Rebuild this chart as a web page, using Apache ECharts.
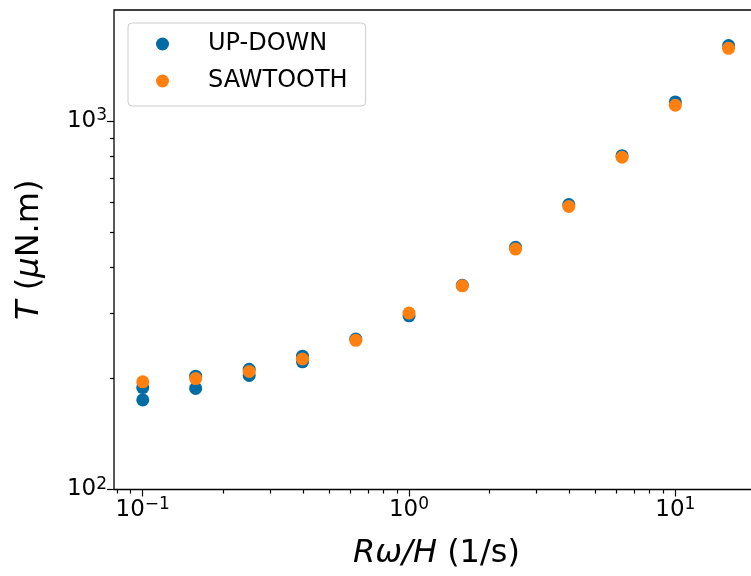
<!DOCTYPE html>
<html><head><meta charset="utf-8">
<script src="https://cdn.jsdelivr.net/npm/echarts@6/dist/echarts.min.js"></script>
<style>html,body{margin:0;padding:0;background:#fff}#c{width:751px;height:576px}</style>
</head><body><div id="c"></div>
<script>
// ---- data ----
const upDownX = [0.1, 0.1, 0.158, 0.158, 0.251, 0.251, 0.398, 0.398, 0.631, 1, 1.585, 2.512, 3.981, 6.31, 10, 15.85];
const upDownY = [189, 175, 203, 188, 212, 204, 230, 222, 256, 296, 358, 454, 593, 805, 1126, 1601];
const sawtoothX = [0.1, 0.158, 0.251, 0.398, 0.631, 1, 1.585, 2.512, 3.981, 6.31, 10, 15.85];
const sawtoothY = [196, 200, 209, 226, 254, 301, 357, 449, 586, 797, 1103, 1574];
const seriesNames = ['UP-DOWN', 'SAWTOOTH'];

const xMajorTicks = [0.1, 1, 10];
const xTickExp = ['\u22121', '0', '1'];
const xMinorTicks = [0.08, 0.09, 0.2, 0.3, 0.4, 0.5, 0.6, 0.7, 0.8, 0.9, 2, 3, 4, 5, 6, 7, 8, 9, 20];
const yMajorTicks = [100, 1000];
const yTickExp = ['2', '3'];
const yMinorTicks = [200, 300, 400, 500, 600, 700, 800, 900];

const xMin = 0.07799, xMax = 20.62;
const yMin = 100, yMax = 2000;

const FONT = 'DejaVu Sans';
const BLUE = '#006BA4', ORANGE = '#FF800E';

function makeFormatter(ticks, exps) {
  return function (v) {
    const i = ticks.findIndex(t => Math.abs(t - v) / t < 1e-6);
    return i < 0 ? '' : '{b|10}{s|' + exps[i] + '}';
  };
}
const tickRich = {
  b: { fontSize: 23, fontFamily: FONT, color: '#000', lineHeight: 27 },
  s: { fontSize: 17, fontFamily: FONT, color: '#000', lineHeight: 17, padding: [0, 0, 10, 0] }
};
const tickLine = { color: '#000', width: 1.2 };
const nameRich = {
  i: { fontSize: 32, fontFamily: FONT, fontStyle: 'italic', color: '#000' },
  n: { fontSize: 32, fontFamily: FONT, color: '#000' }
};

const chart = echarts.init(document.getElementById('c'), null, { renderer: 'canvas' });
chart.setOption({
  animation: false,
  backgroundColor: '#fff',
  grid: { left: 114, top: 10, width: 645, height: 479.5, show: true, borderColor: '#000', borderWidth: 1.3, backgroundColor: 'transparent', containLabel: false, outerBoundsMode: 'none' },
  legend: {
    orient: 'vertical', left: 128, top: 23,
    padding: [8, 18, 12, 28], itemWidth: 13, itemHeight: 13, itemGap: 11,
    icon: 'circle',
    backgroundColor: 'rgba(255,255,255,0.8)', borderColor: '#cccccc', borderWidth: 1, borderRadius: 4,
    textStyle: { fontFamily: FONT, fontSize: 24, color: '#000', lineHeight: 26, padding: [0, 0, 0, 34] },
    data: seriesNames
  },
  xAxis: [
    {
      type: 'log', logBase: 10, min: xMin, max: xMax, position: 'bottom',
      axisLine: { show: false }, splitLine: { show: false }, minorTick: { show: false },
      axisTick: { show: true, customValues: xMajorTicks, length: 7, lineStyle: tickLine },
      axisLabel: { customValues: xMajorTicks, formatter: makeFormatter(xMajorTicks, xTickExp), margin: 7, rich: tickRich },
      name: '{i|R\u03c9/H} {n|(1/s)}', nameLocation: 'middle', nameGap: 48,
      nameTextStyle: { fontSize: 32, fontFamily: FONT, color: '#000', rich: nameRich }
    },
    {
      type: 'log', logBase: 10, min: xMin, max: xMax, position: 'bottom',
      axisLine: { show: false }, splitLine: { show: false }, axisLabel: { show: false },
      axisTick: { show: true, customValues: xMinorTicks, length: 4, lineStyle: tickLine }
    }
  ],
  yAxis: [
    {
      type: 'log', logBase: 10, min: yMin, max: yMax, position: 'left',
      axisLine: { show: false }, splitLine: { show: false }, minorTick: { show: false },
      axisTick: { show: true, customValues: yMajorTicks, length: 7, lineStyle: tickLine },
      axisLabel: { customValues: yMajorTicks, formatter: makeFormatter(yMajorTicks, yTickExp), margin: 7, rich: tickRich },
      name: '{i|T} {n|(}{i|\u03bc}{n|N.m)}', nameLocation: 'middle', nameGap: 68, nameRotate: 90,
      nameTextStyle: { fontSize: 32, fontFamily: FONT, color: '#000', rich: nameRich }
    },
    {
      type: 'log', logBase: 10, min: yMin, max: yMax, position: 'left',
      axisLine: { show: false }, splitLine: { show: false }, axisLabel: { show: false },
      axisTick: { show: true, customValues: yMinorTicks, length: 4, lineStyle: tickLine }
    }
  ],
  series: [
    {
      name: seriesNames[0], type: 'scatter', xAxisIndex: 0, yAxisIndex: 0,
      symbol: 'circle', symbolSize: 13, itemStyle: { color: BLUE, opacity: 1 },
      emphasis: { disabled: true },
      data: upDownX.map((x, i) => [x, upDownY[i]])
    },
    {
      name: seriesNames[1], type: 'scatter', xAxisIndex: 0, yAxisIndex: 0,
      symbol: 'circle', symbolSize: 13, itemStyle: { color: ORANGE, opacity: 1 },
      emphasis: { disabled: true },
      data: sawtoothX.map((x, i) => [x, sawtoothY[i]])
    }
  ]
});
</script>
</body></html>
